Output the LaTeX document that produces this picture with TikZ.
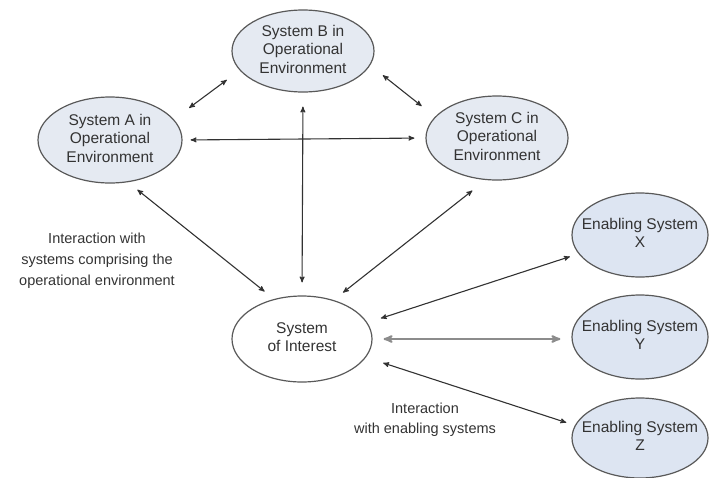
\documentclass[tikz,border=0pt]{standalone}
\usepackage{fontspec}
\setmainfont{Liberation Sans}
\usetikzlibrary{arrows}
\usetikzlibrary{shapes.geometric}
\definecolor{opfill}{RGB}{229,234,242}
\definecolor{enfill}{RGB}{221,229,242}
\definecolor{lnk}{RGB}{50,50,50}
\newcommand{\ellbox}[1]{\makebox[0pt]{\begin{tabular}{@{}c@{}}#1\end{tabular}}}

\begin{document}
\begin{tikzpicture}[x=1pt,y=-1pt,
  sys/.style={ellipse, draw=black!65, line width=1.2pt, fill=opfill, inner sep=0pt,
    minimum width=142pt, minimum height=84pt, text=black!80, font=\fontsize{15.5}{18.5}\selectfont},
  enab/.style={sys, fill=enfill, minimum width=136pt},
  link/.style={lnk, line width=1.1pt, <->, >=stealth'},
  lbl/.style={align=center, text=black!80}]
\useasboundingbox (0,0) rectangle (709,477);
\node[sys, minimum width=144pt, minimum height=86pt] (A) at (110,140) {\ellbox{System A in\\Operational\\Environment}};
\node[sys, minimum height=82pt] (B) at (303,51) {\ellbox{System B in\\Operational\\Environment}};
\node[sys] (C) at (497,138) {\ellbox{System C in\\Operational\\Environment}};
\node[sys, fill=white, minimum width=140pt, minimum height=86pt] (S) at (302,339) {\ellbox{System\\of Interest}};
\node[enab] (X) at (640,235) {\ellbox{Enabling System\\X}};
\node[enab] (Y) at (640,337) {\ellbox{Enabling System\\Y}};
\node[enab, minimum height=80pt] (Z) at (640,438) {\ellbox{Enabling System\\Z}};
\foreach \p/\q/\s/\t in {A.18/B.197/19pt/16pt, B.348/C.161/16pt/17pt, A.east/C.west/8pt/11pt,
  B.south/S.north/14pt/13pt, A.293/S.125/12pt/12pt, C.255/S.51/17pt/12pt,
  S.14/X.197/14pt/9pt, S.344/Z.169/18pt/9pt}
 \draw[link, shorten <=\s, shorten >=\t] (\p) -- (\q);
\draw[link, line width=2pt, black!45, shorten <=11pt, shorten >=11pt] (S.east) -- (S.east -| Y.west);
\node[lbl, font=\fontsize{14.5}{21}\selectfont] (envlbl) at (97,261) {Interaction with\\systems comprising the\\operational environment};
\node[lbl, font=\fontsize{14.5}{20}\selectfont] (enblbl) at (425,420) {Interaction\\with enabling systems};
\end{tikzpicture}
\end{document}
